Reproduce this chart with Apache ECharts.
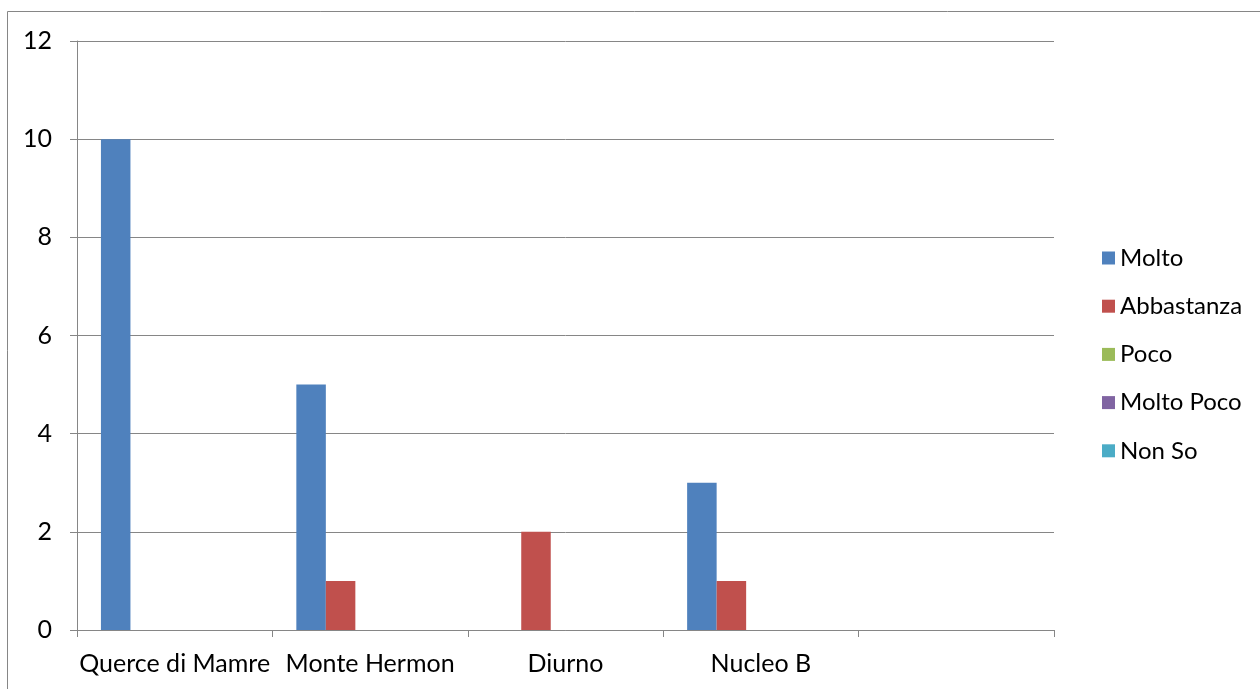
<!DOCTYPE html>
<html>
<head>
<meta charset="utf-8">
<script src="https://cdn.jsdelivr.net/npm/echarts@6/dist/echarts.min.js"></script>
<style>html,body{margin:0;padding:0;background:#fff}#c{width:1260px;height:689px}</style>
</head>
<body>
<div id="c"></div>
<script>
var categories = ["Querce di Mamre", "Monte Hermon", "Diurno", "Nucleo B", ""];
var seriesNames = ["Molto", "Abbastanza", "Poco", "Molto Poco", "Non So"];
var molto = [10, 5, 0, 3, 0];
var abbastanza = [0, 1, 2, 1, 0];
var poco = [0, 0, 0, 0, 0];
var moltoPoco = [0, 0, 0, 0, 0];
var nonSo = [0, 0, 0, 0, 0];
var colors = ["#4F81BD", "#C0504D", "#9BBB59", "#8064A2", "#4BACC6"];
var values = [molto, abbastanza, poco, moltoPoco, nonSo];

var font = "Lato";
var fs = 25;
var chart = echarts.init(document.getElementById('c'));
var series = seriesNames.map(function (n, i) {
  return {
    name: n, type: 'bar', data: values[i], barGap: '0%', barCategoryGap: '24.5%',
    itemStyle: { color: colors[i] }, animation: false
  };
});
chart.setOption({
  animation: false,
  color: colors,
  textStyle: { fontFamily: font },
  graphic: [{
    type: 'rect', shape: { x: 7.5, y: 11.5, width: 1400, height: 1000 },
    style: { fill: 'none', stroke: '#868686', lineWidth: 1 }, silent: true
  }],
  grid: { left: 77, right: 206, top: 41, bottom: 59, containLabel: false },
  legend: {
    orient: 'vertical', left: 1097, top: 241,
    itemWidth: 13, itemHeight: 13, itemGap: 24.2, icon: 'rect',
    textStyle: { fontFamily: font, fontSize: 24, color: '#000', lineHeight: 24 },
    data: seriesNames
  },
  xAxis: {
    type: 'category', data: categories,
    axisLine: { lineStyle: { color: '#868686', width: 1 } },
    axisTick: { show: true, length: 7, alignWithLabel: false, lineStyle: { color: '#868686' } },
    axisLabel: { color: '#000', fontFamily: font, fontSize: fs, margin: 21, interval: 0 },
    splitLine: { show: false }
  },
  yAxis: {
    type: 'value', min: 0, max: 12, interval: 2,
    axisLine: { show: true, lineStyle: { color: '#868686', width: 1 } },
    axisTick: { show: true, length: 7, lineStyle: { color: '#868686' } },
    axisLabel: { color: '#000', fontFamily: font, fontSize: fs, margin: 25 },
    splitLine: { show: true, lineStyle: { color: '#868686', width: 1 } }
  },
  series: series
});
</script>
</body>
</html>
